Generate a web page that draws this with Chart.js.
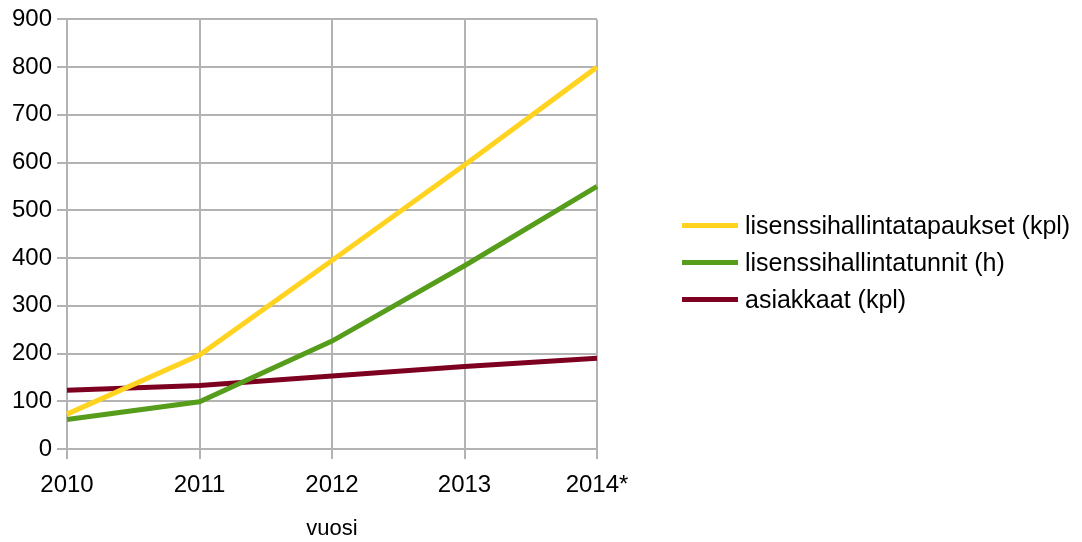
<!DOCTYPE html>
<html>
<head>
<meta charset="utf-8">
<script src="https://cdn.jsdelivr.net/npm/chart.js@4"></script>
<style>
  body { margin: 0; background: #fff; }
  #wrap { position: relative; width: 1082px; height: 542px; }
  #legend { position: absolute; left: 682px; top: 207px; font: 25px 'Liberation Sans', Arial, sans-serif; color: #000; }
  .item { display: flex; align-items: center; height: 37px; }
  .swatch { width: 56px; height: 5px; margin-right: 7px; }
</style>
</head>
<body>
<div id="wrap">
  <canvas id="chart" width="1082" height="542"></canvas>
  <div id="legend"></div>
</div>
<script>
const years = ['2010', '2011', '2012', '2013', '2014*'];
const tapaukset = [73, 197, 395, 595, 800];
const tunnit = [62, 99, 226, 384, 550];
const asiakkaat = [123, 133, 153, 173, 190];
const seriesNames = ['lisenssihallintatapaukset (kpl)', 'lisenssihallintatunnit (h)', 'asiakkaat (kpl)'];
const colors = ['#ffd320', '#579d1c', '#7e0021'];

const font = "'Liberation Sans', Arial, sans-serif";
const gridColor = '#b3b3b3';

const datasets = [tapaukset, tunnit, asiakkaat].map((d, i) => ({
  label: seriesNames[i],
  data: d,
  borderColor: colors[i],
  backgroundColor: colors[i],
  borderWidth: 5,
  pointRadius: 0,
  tension: 0,
  fill: false,
  order: i
}));

const ctx = document.getElementById('chart').getContext('2d');
new Chart(ctx, {
  type: 'line',
  data: { labels: years, datasets },
  options: {
    responsive: false,
    animation: false,
    layout: { padding: { top: 19, right: 485, left: 0, bottom: 0 } },
    plugins: { legend: { display: false }, tooltip: { enabled: false } },
    scales: {
      x: {
        offset: false,
        grid: { color: gridColor, lineWidth: 2, tickLength: 10 },
        border: { color: gridColor, width: 2 },
        ticks: { color: '#000', font: { family: font, size: 24 }, padding: 12, maxRotation: 0 },
        title: { display: true, text: 'vuosi', color: '#000', font: { family: font, size: 22 }, padding: 0 },
        afterFit(scale) { scale.height = 93; }
      },
      y: {
        min: 0,
        max: 900,
        ticks: { stepSize: 100, color: '#000', font: { family: font, size: 24 }, padding: 5 },
        grid: { color: gridColor, lineWidth: 2, tickLength: 10 },
        border: { color: gridColor, width: 2 },
        afterFit(scale) { scale.width = 67; }
      }
    }
  }
});

// legend built as html so it can sit exactly where the original has it
const legend = document.getElementById('legend');
seriesNames.forEach((name, i) => {
  const row = document.createElement('div');
  row.className = 'item';
  const sw = document.createElement('span');
  sw.className = 'swatch';
  sw.style.background = colors[i];
  const txt = document.createElement('span');
  txt.textContent = name;
  row.appendChild(sw);
  row.appendChild(txt);
  legend.appendChild(row);
});
</script>
</body>
</html>
